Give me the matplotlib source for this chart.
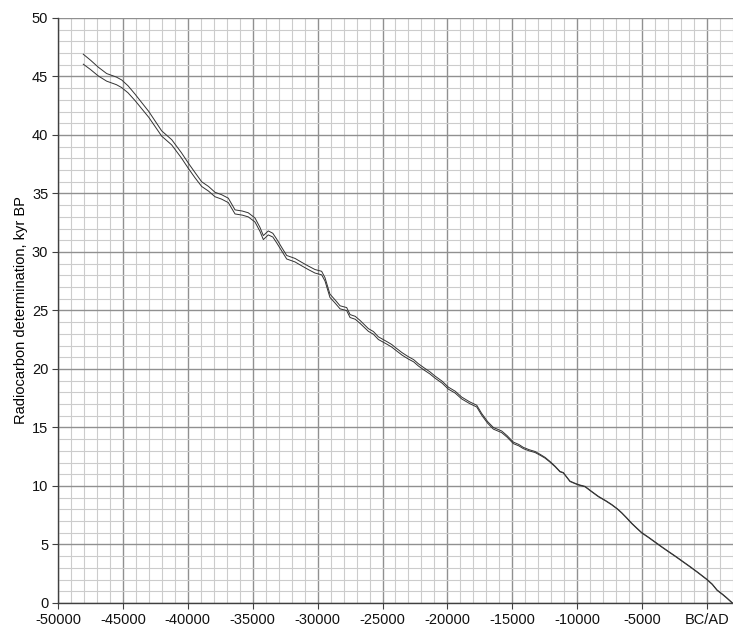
import numpy as np
import matplotlib
matplotlib.use("Agg")
import matplotlib.pyplot as plt
from matplotlib.ticker import MultipleLocator, FixedLocator

plt.rcParams['font.family'] = ['Liberation Sans', 'DejaVu Sans']

# calendar year (BC negative), radiocarbon age in kyr BP
cal_year = [-48050, -47500, -46900, -46250, -45500, -45090, -44600, -44070, -43000,
            -42010, -41240, -40500, -39960, -39450, -38930, -38400, -37900, -37400,
            -36880, -36360, -35800, -35340, -34820, -34440, -34180, -33800, -33450,
            -33150, -32770, -32380, -31740, -31200, -30720, -30200, -29690, -29430,
            -29050, -28650, -28270, -27760, -27500, -27100, -26730, -26090, -25700,
            -25320, -24680, -24300, -23910, -23500, -23010, -22600, -22240, -21800,
            -21340, -20960, -20400, -19930, -19400, -18900, -18300, -17740, -17360,
            -16900, -16460, -15820, -15400, -14920, -14500, -14150, -13700, -13250,
            -12850, -12480, -12100, -11710, -11330, -11070, -10560, -10200, -9900,
            -9400, -8900, -8370, -7800, -7340, -6900, -6570, -6200, -5800, -5400,
            -5030, -4500, -4000, -3500, -2980, -2400, -1820, -1310, -700, 0, 400,
            770, 1200, 1500, 1950]

upper = [46.90, 46.40, 45.80, 45.25, 44.95, 44.70, 44.20, 43.50, 42.00,
         40.35, 39.60, 38.50, 37.60, 36.80, 36.00, 35.60, 35.10, 34.90,
         34.60, 33.60, 33.50, 33.35, 32.90, 32.10, 31.40, 31.80, 31.60,
         31.10, 30.40, 29.70, 29.45, 29.10, 28.80, 28.50, 28.35, 27.80,
         26.40, 25.90, 25.40, 25.25, 24.65, 24.50, 24.15, 23.45, 23.20,
         22.75, 22.35, 22.10, 21.75, 21.40, 21.05, 20.80, 20.45, 20.10,
         19.75, 19.40, 18.95, 18.45, 18.10, 17.60, 17.20, 16.90, 16.20,
         15.50, 15.00, 14.70, 14.30, 13.75, 13.55, 13.30, 13.10, 12.95,
         12.70, 12.45, 12.10, 11.70, 11.25, 11.15, 10.42, 10.25, 10.12,
         9.97, 9.55, 9.12, 8.75, 8.42, 8.05, 7.72, 7.30, 6.82, 6.40,
         6.02, 5.62, 5.22, 4.82, 4.42, 3.98, 3.52, 3.12, 2.62, 2.02, 1.62,
         1.12, 0.75, 0.47, 0.02]

lower = [46.05, 45.60, 45.05, 44.60, 44.30, 44.05, 43.60, 42.95, 41.50,
         39.90, 39.15, 38.05, 37.15, 36.35, 35.60, 35.20, 34.72, 34.52,
         34.22, 33.25, 33.15, 33.00, 32.56, 31.76, 31.06, 31.46, 31.28,
         30.78, 30.10, 29.40, 29.15, 28.80, 28.50, 28.20, 28.05, 27.52,
         26.12, 25.63, 25.14, 24.99, 24.40, 24.25, 23.90, 23.22, 22.97,
         22.52, 22.13, 21.88, 21.54, 21.19, 20.85, 20.61, 20.26, 19.91,
         19.57, 19.22, 18.78, 18.28, 17.94, 17.44, 17.05, 16.75, 16.05,
         15.36, 14.86, 14.56, 14.17, 13.62, 13.43, 13.19, 13.00, 12.86,
         12.62, 12.38, 12.04, 11.65, 11.21, 11.11, 10.38, 10.21, 10.08,
         9.93, 9.51, 9.08, 8.71, 8.38, 8.01, 7.68, 7.26, 6.78, 6.36,
         5.98, 5.58, 5.18, 4.78, 4.38, 3.94, 3.48, 3.08, 2.58, 1.98, 1.58,
         1.08, 0.71, 0.43, -0.02]

x_ticks = [-50000, -45000, -40000, -35000, -30000, -25000, -20000, -15000, -10000, -5000, 0]
x_labels = ['-50000', '-45000', '-40000', '-35000', '-30000', '-25000', '-20000',
            '-15000', '-10000', '-5000', 'BC/AD']

fig = plt.figure(figsize=(7.33, 6.31), dpi=100)
ax = fig.add_axes([0.0791, 0.0444, 0.9209, 0.9271])

ax.set_xlim(-50000, 2000)
ax.set_ylim(0, 50)

ax.xaxis.set_major_locator(FixedLocator(x_ticks))
ax.set_xticklabels(x_labels)
ax.xaxis.set_minor_locator(MultipleLocator(1000))
ax.yaxis.set_major_locator(MultipleLocator(5))
ax.yaxis.set_minor_locator(MultipleLocator(1))

ax.grid(which='minor', color='#cccccc', linewidth=0.8)
ax.grid(which='major', color='#909090', linewidth=1.0)
ax.set_axisbelow(True)

ax.plot(cal_year, upper, color='#333333', linewidth=0.7)
ax.plot(cal_year, lower, color='#333333', linewidth=0.7)

for side in ['top', 'right']:
    ax.spines[side].set_visible(False)
for side in ['left', 'bottom']:
    ax.spines[side].set_color('#404040')
    ax.spines[side].set_linewidth(1.0)

ax.tick_params(which='major', direction='out', length=4, color='#404040',
               labelsize=10.5, labelcolor='#111111', pad=3)
ax.tick_params(which='minor', length=0)

ax.set_ylabel('Radiocarbon determination, kyr BP', fontsize=10.5, labelpad=3)

fig.savefig('out.png', dpi=100)
